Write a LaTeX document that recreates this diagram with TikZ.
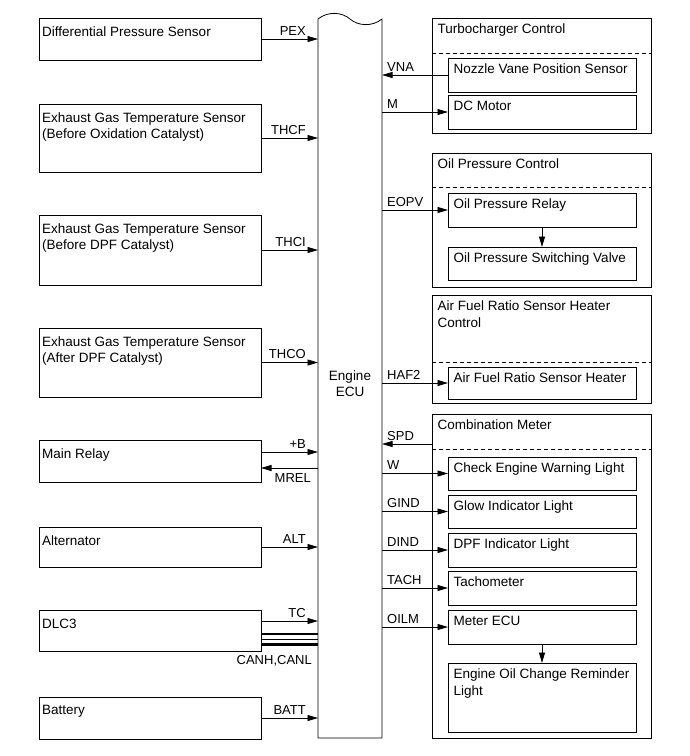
\documentclass[tikz,border=0pt]{standalone}
\usepackage{fontspec}
\setmainfont{Liberation Sans}
\usetikzlibrary{arrows.meta}
\tikzset{
  box/.style={draw, line width=0.8pt, inner sep=0pt, outer sep=0pt, anchor=north west},
  lt/.style={inner sep=0pt, align=left, anchor=north west, font=\fontsize{13.5}{16.5}\selectfont},
  lbl/.style={inner sep=0pt, font=\fontsize{13}{15}\selectfont},
  sig/.style={line width=0.8pt, -{Triangle[length=10.5pt,width=6pt]}},
  dashline/.style={line width=0.7pt, dash pattern=on 4pt off 3pt},
  canthick/.style={line width=2.3pt},
  canthin/.style={line width=0.9pt},
}
\newcommand\lblk[6]{%
  \node[box, minimum width=#4pt, minimum height=#5pt] (#1) at (#2,#3) {};
  \node[lt] (#1t) at ([shift={(3,8.5)}]#1.north west) {#6};}
\newcommand\rblk[6]{%
  \node[box, minimum width=#4pt, minimum height=#5pt] (#1) at (#2,#3) {};
  \node[lt] (#1t) at ([shift={(5.5,6)}]#1.north west) {#6};}
\begin{document}
\begin{tikzpicture}[x=1pt,y=-1pt]
\useasboundingbox (0,0) rectangle (690,756);

% left blocks
\lblk{dps}{39}{18}{222}{42}{Differential Pressure Sensor}
\lblk{egta}{39}{104}{222}{68}{Exhaust Gas Temperature Sensor\\(Before Oxidation Catalyst)}
\lblk{egtb}{39}{215}{222}{70}{Exhaust Gas Temperature Sensor\\(Before DPF Catalyst)}
\lblk{egtc}{39}{328}{222}{69}{Exhaust Gas Temperature Sensor\\(After DPF Catalyst)}
\lblk{mr}{39}{440}{222}{42}{Main Relay}
\lblk{alt}{39}{527}{222}{40}{Alternator}
\lblk{dlc}{39}{610}{222}{41}{DLC3}
\lblk{bat}{39}{697}{222}{42}{Battery}

% right outer blocks
\rblk{turbo}{432}{18}{219}{115}{Turbocharger Control}
\rblk{oil}{432}{153}{219}{134}{Oil Pressure Control}
\rblk{afr}{432}{295}{219}{108}{Air Fuel Ratio Sensor Heater\\Control}
\rblk{comb}{432}{414}{219}{324}{Combination Meter}

\draw[dashline] ([shift={(0,35)}]turbo.north west) -- ([shift={(0,35)}]turbo.north east);
\draw[dashline] ([shift={(0,34)}]oil.north west) -- ([shift={(0,34)}]oil.north east);
\draw[dashline] ([shift={(0,67)}]afr.north west) -- ([shift={(0,67)}]afr.north east);
\draw[dashline] ([shift={(0,35)}]comb.north west) -- ([shift={(0,35)}]comb.north east);

% right inner blocks
\rblk{nvps}{448}{58}{188}{34}{Nozzle Vane Position Sensor}
\rblk{dcm}{448}{95}{188}{34}{DC Motor}
\rblk{opr}{448}{193}{188}{34}{Oil Pressure Relay}
\rblk{opsv}{448}{247}{188}{33}{Oil Pressure Switching Valve}
\rblk{afh}{448}{367}{188}{32}{Air Fuel Ratio Sensor Heater}
\rblk{cewl}{448}{457}{188}{33}{Check Engine Warning Light}
\rblk{gil}{448}{495}{188}{33}{Glow Indicator Light}
\rblk{dpfl}{448}{533}{188}{34}{DPF Indicator Light}
\rblk{tach}{448}{571}{188}{34}{Tachometer}
\rblk{mecu}{448}{610}{188}{34}{Meter ECU}
\rblk{eocr}{448}{663}{188}{69}{Engine Oil Change Reminder\\Light}

% Engine ECU
\node[inner sep=0pt, outer sep=0pt, anchor=north west, minimum width=64pt, minimum height=719pt] (ecu) at (318,19) {};
\draw[line width=0.8pt] (ecu.north west) .. controls (328,11) and (342,12) .. (350,19)
  .. controls (358,26) and (372,27) .. (ecu.north east) -- (ecu.south east) -- (ecu.south west) -- cycle;
\node[lbl, align=center, font=\fontsize{13.5}{16}\selectfont] (ecut) at (350,384) {Engine\\ECU};

% left signals
\draw[sig] (dps.east) -- (dps.east -| ecu.west);
\node[lbl, anchor=base east] (lpex) at ([shift={(-12,-4)}]dps.east -| ecu.west) {PEX};
\draw[sig] (egta.east) -- (egta.east -| ecu.west);
\node[lbl, anchor=base east] (lthcf) at ([shift={(-12,-4)}]egta.east -| ecu.west) {THCF};
\draw[sig] (egtb.east) -- (egtb.east -| ecu.west);
\node[lbl, anchor=base east] (lthci) at ([shift={(-12,-4)}]egtb.east -| ecu.west) {THCI};
\draw[sig] (egtc.east) -- (egtc.east -| ecu.west);
\node[lbl, anchor=base east] (lthco) at ([shift={(-12,-4)}]egtc.east -| ecu.west) {THCO};

\coordinate (pB) at ([shift={(0,-9)}]mr.east);
\coordinate (pM) at ([shift={(0,7)}]mr.east);
\draw[sig] (pB) -- (pB -| ecu.west);
\node[lbl, anchor=base east] (lpb) at ([shift={(-12,-4)}]pB -| ecu.west) {+B};
\draw[sig] (pM -| ecu.west) -- (pM);
\node[lbl, anchor=north east] (lmrel) at ([shift={(-7,5)}]pM -| ecu.west) {MREL};

\draw[sig] (alt.east) -- (alt.east -| ecu.west);
\node[lbl, anchor=base east] (lalt) at ([shift={(-12,-4)}]alt.east -| ecu.west) {ALT};

\coordinate (pTC) at ([shift={(0,-9.5)}]dlc.east);
\draw[sig] (pTC) -- (pTC -| ecu.west);
\node[lbl, anchor=base east] (ltc) at ([shift={(-12,-4)}]pTC -| ecu.west) {TC};
\coordinate (ca) at ([shift={(0,3.5)}]dlc.east);
\coordinate (cb) at ([shift={(0,9)}]dlc.east);
\coordinate (cc) at ([shift={(0,14)}]dlc.east);
\draw[canthick] (ca) -- (ca -| ecu.west);
\draw[canthin] (cb) -- (cb -| ecu.west);
\draw[canthick] (cc) -- (cc -| ecu.west);
\node[lbl, anchor=north east] (lcan) at ([shift={(-6,10.5)}]cc -| ecu.west) {CANH,CANL};

\draw[sig] (bat.east) -- (bat.east -| ecu.west);
\node[lbl, anchor=base east] (lbatt) at ([shift={(-12,-4)}]bat.east -| ecu.west) {BATT};

% right signals
\draw[sig] (nvps.west) -- (nvps.west -| ecu.east);
\node[lbl, anchor=base west] (lvna) at ([shift={(5,-4)}]nvps.west -| ecu.east) {VNA};
\draw[sig] (dcm.west -| ecu.east) -- (dcm.west);
\node[lbl, anchor=base west] (lm) at ([shift={(5,-4)}]dcm.west -| ecu.east) {M};
\draw[sig] (opr.west -| ecu.east) -- (opr.west);
\node[lbl, anchor=base west] (leopv) at ([shift={(5,-4)}]opr.west -| ecu.east) {EOPV};
\draw[sig] (afh.west -| ecu.east) -- (afh.west);
\node[lbl, anchor=base west] (lhaf) at ([shift={(5,-4)}]afh.west -| ecu.east) {HAF2};
\coordinate (pS) at ([shift={(0,30)}]comb.north west);
\draw[sig] (pS) -- (pS -| ecu.east);
\node[lbl, anchor=base west] (lspd) at ([shift={(5,-4)}]pS -| ecu.east) {SPD};
\draw[sig] (cewl.west -| ecu.east) -- (cewl.west);
\node[lbl, anchor=base west] (lw) at ([shift={(5,-4)}]cewl.west -| ecu.east) {W};
\draw[sig] (gil.west -| ecu.east) -- (gil.west);
\node[lbl, anchor=base west] (lgind) at ([shift={(5,-4)}]gil.west -| ecu.east) {GIND};
\draw[sig] (dpfl.west -| ecu.east) -- (dpfl.west);
\node[lbl, anchor=base west] (ldind) at ([shift={(5,-4)}]dpfl.west -| ecu.east) {DIND};
\draw[sig] (tach.west -| ecu.east) -- (tach.west);
\node[lbl, anchor=base west] (ltach) at ([shift={(5,-4)}]tach.west -| ecu.east) {TACH};
\draw[sig] (mecu.west -| ecu.east) -- (mecu.west);
\node[lbl, anchor=base west] (loilm) at ([shift={(5,-4)}]mecu.west -| ecu.east) {OILM};

% internal arrows
\draw[sig] (opr.south) -- (opsv.north);
\draw[sig] (mecu.south) -- (eocr.north);
\end{tikzpicture}
\end{document}
